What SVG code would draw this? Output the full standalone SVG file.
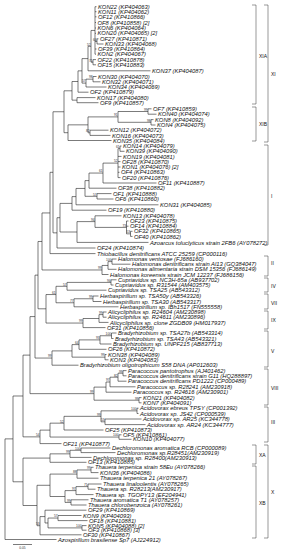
<svg xmlns="http://www.w3.org/2000/svg" width="283" height="550" viewBox="0 0 283 550">
<style>
.lf{font-family:"Liberation Sans",Arial,sans-serif;font-style:italic;font-size:5.8px;fill:#111}
.cl{font-family:"Liberation Sans",Arial,sans-serif;font-size:5px;fill:#111}
.bs{font-family:"Liberation Sans",Arial,sans-serif;font-size:3.3px;fill:#333;text-anchor:end}
.br{fill:none;stroke:#222;stroke-width:0.6}
.bk{fill:none;stroke:#333;stroke-width:0.5}
</style>
<rect width="283" height="550" fill="#fff"/>
<g id="connectors">
<path class="br" d="M97 38.8V44M97 38.8H98.5M97 44H103.5
M95 6.7V54.2M95 6.7H96.5M95 11.7H96.5M95 16.8H96.5M95 22.5H96M95 28H96M95 33.3H96M95 41.4H97M95 49H96.5M95 54.2H96
M93 59.6V64.8M93 59.6H96M93 64.8H96
M91 30.45V62.2M91 30.45H95M91 62.2H93
M88 46.3V70.8M88 46.3H91M88 70.8H150.5
M93 76.5V81.8M93 76.5H96.5M93 81.8H100.5
M86 79.15V87M86 79.15H93M86 87H106.5
M82 58.6V83.1M82 58.6H88M82 83.1H86
M78 70.85V92.2M78 70.85H82M78 92.2H88.5
M77 97.6V102.7M77 97.6H95.5M77 102.7H98.5
M72 81.5V100.15M72 81.5H78M72 100.15H77
M148 108.8V114.2M148 108.8H151.5M148 114.2H156.5
M151 119.6V125M151 119.6H153.5M151 125H155.5
M118 111.5V122.3M118 111.5H148M118 122.3H151
M90 130.2V135.4M90 130.2H108.5M90 135.4H110.5
M88 116.9V132.8M88 116.9H118M88 132.8H90
M68 124.85V140.5M68 124.85H88M68 140.5H111.5
M64 90.8V132.7M64 90.8H72M64 132.7H68
M120 146V151.3M120 146H121.5M120 151.3H124.5
M118 148.65V177.6M118 148.65H120M118 156.4H121.5M118 161.6H120.5M118 167H120.5M118 172.3H119.5M118 177.6H120.5
M103 163.1V183M103 163.1H118M103 183H156.5
M89 173.05V188.2M89 173.05H103M89 188.2H116.5
M97 193.6V199M97 193.6H111.5M97 199H113.5
M85 180.6V196.3M85 180.6H89M85 196.3H97
M76 188.45V204.8M76 188.45H85M76 204.8H158.5
M72 196.6V210.2M72 196.6H76M72 210.2H106.5
M130.5 231.3V236.4M130.5 231.3H132.5M130.5 236.4H132.5
M126.5 221V233.85M126.5 221H128.5M126.5 226.2H128.5M126.5 233.85H130.5
M95 215.8V227.4M95 215.8H121.5M95 227.4H126.5
M77 221.6V242.4M77 221.6H95M77 242.4H148.5
M60 203.4V232M60 203.4H72M60 232H77
M57 217.7V248M57 217.7H60M57 248H95.5
M53 111.75V232.85M53 111.75H64M53 232.85H57
M50 172.3V253.6M50 172.3H53M50 253.6H95.5
M112 259V264.2M112 259H116.5M112 264.2H130.5
M108 261.6V269.3M108 261.6H112M108 269.3H116.5
M102 265.45V274.5M102 265.45H108M102 274.5H108.5
M111 279.8V285M111 279.8H116.5M111 285H113.5
M67 282.4V290.2M67 282.4H111M67 290.2H106.5
M93 296V301.5M93 296H98.5M93 301.5H101.5
M74 298.75V306.8M74 298.75H93M74 306.8H118.5
M56 286.3V302.78M56 286.3H67M56 302.78H74
M103 312V317.2M103 312H106.5M103 317.2H106.5
M99 314.6V322.4M99 314.6H103M99 322.4H108.5
M83 318.5V327.6M83 318.5H99M83 327.6H105.5
M111.5 333V338.5M111.5 333H116.5M111.5 338.5H113.5
M100 335.75V344M100 335.75H111.5M100 344H111.5
M79 339.9V349.3M79 339.9H100M79 349.3H106.5
M105 354.5V359.8M105 354.5H106.5M105 359.8H108.5
M72 344.6V357.15M72 344.6H79M72 357.15H105
M52 350.9V365.2M52 350.9H72M52 365.2H78.5
M123 370.6V375.8M123 370.6H126.5M123 375.8H126.5
M118 373.2V381.2M118 373.2H123M118 381.2H126.5
M110 377.2V386.8M110 377.2H118M110 386.8H135.5
M106 382V392.2M106 382H110M106 392.2H131.5
M139 397.6V402.8M139 397.6H141.5M139 402.8H141.5
M94 387.1V400.2M94 387.1H106M94 400.2H139
M137 408.2V413.5M137 408.2H138.5M137 413.5H138.5
M105 419V424.6M105 419H141.5M105 424.6H145.5
M101 410.85V421.8M101 410.85H137M101 421.8H105
M64 416.33V430M64 416.33H101M64 430H103.5
M119 434.8V439.3M119 434.8H121.5M119 439.3H131.5
M50 423.17V437.05M50 423.17H64M50 437.05H119
M40 430.11V443.6M40 430.11H50M40 443.6H61.5
M81 448V452.6M81 448H110.5M81 452.6H115.5
M70 450.3V457.4M70 450.3H81M70 457.4H91.5
M50 453.85V462.3M50 453.85H70M50 462.3H86.5
M91 467.3V472.6M91 467.3H93.5M91 472.6H98.5
M77 469.95V478.2M77 469.95H91M77 478.2H98.5
M88 484V489.2M88 484H101.5M88 489.2H95.5
M76 486.6V494.6M76 486.6H88M76 494.6H93.5
M71 499.8V505M71 499.8H88.5M71 505H86.5
M65 490.6V502.4M65 490.6H76M65 502.4H71
M50 474.08V496.5M50 474.08H77M50 496.5H65
M58 515.5V520.6M58 515.5H81.5M58 520.6H87.5
M82 525.6V530.2M82 525.6H86.5M82 530.2H86.5
M48 518.05V527.9M48 518.05H58M48 527.9H82
M45 510.2V522.98M45 510.2H86.5M45 522.98H48
M40 516.59V534.8M40 516.59H45M40 534.8H81.5
M37 485.29V525.7M37 485.29H50M37 525.7H40
M23 458.08V505.5M23 458.08H50M23 505.5H37
M42 212.95V269.98M42 212.95H50M42 269.98H102
M46 294.54V323.05M46 294.54H56M46 323.05H83
M38 241.47V308.8M38 241.47H42M38 308.8H46
M35 275.13V358.05M35 275.13H38M35 358.05H52
M30 316.59V393.65M30 316.59H35M30 393.65H94
M23 355.12V436.86M23 355.12H30M23 436.86H40
M13 395.99V481.79M13 395.99H23M13 481.79H23
M5 438.89V539.5M5 438.89H13M5 539.5H56.5"/>
</g>
<g id="bootstrap">
<text class="bs" x="96.6" y="40.7">64</text>
<text class="bs" x="92.6" y="61.5">71</text>
<text class="bs" x="90.6" y="45.6">52</text>
<text class="bs" x="92.6" y="78.4">98</text>
<text class="bs" x="85.6" y="82.4">57</text>
<text class="bs" x="147.6" y="110.8">99</text>
<text class="bs" x="150.6" y="121.6">98</text>
<text class="bs" x="117.6" y="116.2">91</text>
<text class="bs" x="89.6" y="132.1">82</text>
<text class="bs" x="119.6" y="147.9">61</text>
<text class="bs" x="117.6" y="162.4">52</text>
<text class="bs" x="102.6" y="172.3">61</text>
<text class="bs" x="96.6" y="195.6">57</text>
<text class="bs" x="130.1" y="233.1">53</text>
<text class="bs" x="126.1" y="226.7">73</text>
<text class="bs" x="94.6" y="220.9">94</text>
<text class="bs" x="111.6" y="260.9">100</text>
<text class="bs" x="101.6" y="269.3">99</text>
<text class="bs" x="110.6" y="281.7">94</text>
<text class="bs" x="66.6" y="285.6">57</text>
<text class="bs" x="92.6" y="298">99</text>
<text class="bs" x="73.6" y="302.1">77</text>
<text class="bs" x="55.6" y="293.8">61</text>
<text class="bs" x="102.6" y="313.9">99</text>
<text class="bs" x="82.6" y="322.3">99</text>
<text class="bs" x="111.1" y="335">100</text>
<text class="bs" x="99.6" y="339.2">93</text>
<text class="bs" x="78.6" y="343.9">64</text>
<text class="bs" x="104.6" y="356.4">99</text>
<text class="bs" x="51.6" y="357.3">99</text>
<text class="bs" x="122.6" y="372.5">99</text>
<text class="bs" x="117.6" y="376.5">82</text>
<text class="bs" x="109.6" y="381.3">97</text>
<text class="bs" x="93.6" y="392.9">99</text>
<text class="bs" x="138.6" y="399.5">99</text>
<text class="bs" x="136.6" y="410.1">100</text>
<text class="bs" x="104.6" y="421.1">53</text>
<text class="bs" x="100.6" y="415.6">99</text>
<text class="bs" x="63.6" y="422.5">52</text>
<text class="bs" x="118.6" y="436.3">100</text>
<text class="bs" x="39.6" y="436.2">54</text>
<text class="bs" x="80.6" y="449.6">100</text>
<text class="bs" x="69.6" y="453.1">99</text>
<text class="bs" x="90.6" y="469.2">99</text>
<text class="bs" x="76.6" y="473.4">88</text>
<text class="bs" x="87.6" y="485.9">71</text>
<text class="bs" x="75.6" y="489.9">97</text>
<text class="bs" x="70.6" y="501.7">99</text>
<text class="bs" x="57.6" y="517.3">57</text>
<text class="bs" x="81.6" y="527.2">100</text>
<text class="bs" x="39.6" y="525">53</text>
</g>
<g id="leaves">
<g id="n-KON22"><text class="lf" x="98" y="8.8">KON22 (KP404063)</text></g>
<g id="n-KON11"><text class="lf" x="98" y="13.8">KON11 (KP404062)</text></g>
<g id="n-OF12"><text class="lf" x="98" y="18.9">OF12 (KP410866)</text></g>
<g id="n-OF8"><text class="lf" x="97.5" y="24.6">OF8 (KP410858) [2]</text></g>
<g id="n-KON6"><text class="lf" x="97.5" y="30.1">KON6 (KP404064)</text></g>
<g id="n-KON20"><text class="lf" x="97.5" y="35.4">KON20 (KP404065) [2]</text></g>
<g id="n-OF27"><text class="lf" x="100" y="40.9">OF27 (KP410871)</text></g>
<g id="n-KON33"><text class="lf" x="105" y="46.1">KON33 (KP404068)</text></g>
<g id="n-OF39"><text class="lf" x="98" y="51.1">OF39 (KP410864)</text></g>
<g id="n-KON2"><text class="lf" x="97.5" y="56.3">KON2 (KP404067)</text></g>
<g id="n-OF22"><text class="lf" x="97.5" y="61.7">OF22 (KP410878)</text></g>
<g id="n-OF15"><text class="lf" x="97.5" y="66.9">OF15 (KP410883)</text></g>
<g id="n-KON37"><text class="lf" x="152" y="72.9">KON37 (KP404087)</text></g>
<g id="n-KON30"><text class="lf" x="98" y="78.6">KON30 (KP404070)</text></g>
<g id="n-KON32"><text class="lf" x="102" y="83.9">KON32 (KP404071)</text></g>
<g id="n-KON34"><text class="lf" x="108" y="89.1">KON34 (KP404069)</text></g>
<g id="n-OF2"><text class="lf" x="90" y="94.3">OF2 (KP410879)</text></g>
<g id="n-KON17"><text class="lf" x="97" y="99.7">KON17 (KP404080)</text></g>
<g id="n-OF9"><text class="lf" x="100" y="104.8">OF9 (KP410857)</text></g>
<g id="n-OF7"><text class="lf" x="153" y="110.9">OF7 (KP410859)</text></g>
<g id="n-KON40"><text class="lf" x="158" y="116.3">KON40 (KP404074)</text></g>
<g id="n-KON8"><text class="lf" x="155" y="121.7">KON8 (KP404092)</text></g>
<g id="n-KON4"><text class="lf" x="157" y="127.1">KON4 (KP404075)</text></g>
<g id="n-KON12"><text class="lf" x="110" y="132.3">KON12 (KP404072)</text></g>
<g id="n-KON16"><text class="lf" x="112" y="137.5">KON16 (KP404073)</text></g>
<g id="n-KON35"><text class="lf" x="113" y="142.6">KON35 (KP404084)</text></g>
<g id="n-KON14"><text class="lf" x="123" y="148.1">KON14 (KP404079)</text></g>
<g id="n-KON39"><text class="lf" x="126" y="153.4">KON39 (KP404090)</text></g>
<g id="n-KON19"><text class="lf" x="123" y="158.5">KON19 (KP404081)</text></g>
<g id="n-OF28"><text class="lf" x="122" y="163.7">OF28 (KP410870)</text></g>
<g id="n-KON1"><text class="lf" x="122" y="169.1">KON1 (KP404076) [2]</text></g>
<g id="n-OF4"><text class="lf" x="121" y="174.4">OF4 (KP410863)</text></g>
<g id="n-OF20"><text class="lf" x="122" y="179.7">OF20 (KP410876)</text></g>
<g id="n-OF11"><text class="lf" x="158" y="185.1">OF11 (KP410887)</text></g>
<g id="n-OF38"><text class="lf" x="118" y="190.3">OF38 (KP410882)</text></g>
<g id="n-OF1"><text class="lf" x="113" y="195.7">OF1 (KP410888)</text></g>
<g id="n-OF6"><text class="lf" x="115" y="201.1">OF6 (KP410860)</text></g>
<g id="n-KON31"><text class="lf" x="160" y="206.9">KON31 (KP404085)</text></g>
<g id="n-OF19"><text class="lf" x="108" y="212.3">OF19 (KP410880)</text></g>
<g id="n-KON13"><text class="lf" x="123" y="217.9">KON13 (KP404078)</text></g>
<g id="n-OF23"><text class="lf" x="130" y="223.1">OF23 (KP410875)</text></g>
<g id="n-OF14"><text class="lf" x="130" y="228.3">OF14 (KP410884)</text></g>
<g id="n-OF32"><text class="lf" x="134" y="233.4">OF32 (KP410865)</text></g>
<g id="n-OF40"><text class="lf" x="134" y="238.5">OF40 (KP410862)</text></g>
<g id="n-Azoarcus"><text class="lf" x="150" y="244.5">Azoarcus toluclyticus strain 2FB6 (AY078272)</text></g>
<g id="n-OF24"><text class="lf" x="97" y="250.1">OF24 (KP410874)</text></g>
<g id="n-Thiobacillus"><text class="lf" x="97" y="255.7">Thiobacillus denitrificans ATCC 25259 (CP000116)</text></g>
<g id="n-Hventosae"><text class="lf" x="118" y="261.1">Halomonas ventosae (FJ686160)</text></g>
<g id="n-Hdenitrificans"><text class="lf" x="132" y="266.3">Halomonas denitrificans strain Al13 (GQ384047)</text></g>
<g id="n-Halimentaria"><text class="lf" x="118" y="271.4">Halomonas alimentaria strain DSM 15356 (FJ686149)</text></g>
<g id="n-Hkoreensis"><text class="lf" x="110" y="276.6">Halomonas koreensis strain JCM 12237 (FJ686156)</text></g>
<g id="n-CupNC3H"><text class="lf" x="118" y="281.9">Cupriavidus sp. NC3H-65a (AB937702)</text></g>
<g id="n-CupR31544"><text class="lf" x="115" y="287.1">Cupriavidus sp. R31544 (AM403575)</text></g>
<g id="n-CupTSA25"><text class="lf" x="108" y="292.3">Cupriavidus sp. TSA25 (AB543312)</text></g>
<g id="n-HerbTSA50y"><text class="lf" x="100" y="298.1">Herbaspirillum sp. TSA50y (AB543326)</text></g>
<g id="n-HerbTSA30"><text class="lf" x="103" y="303.6">Herbaspirillum sp. TSA30 (AB543317)</text></g>
<g id="n-HerbIBh"><text class="lf" x="120" y="308.9">Herbaspirillum sp. IBh1517 (FN555558)</text></g>
<g id="n-AlicR24604"><text class="lf" x="108" y="314.1">Alicycliphilus sp. R24604 (AM230898)</text></g>
<g id="n-AlicR24611"><text class="lf" x="108" y="319.3">Alicycliphilus sp. R24611 (AM230896)</text></g>
<g id="n-AlicClone"><text class="lf" x="110" y="324.5">Alicycliphilus sp. clone ZGDB09 (HM017937)</text></g>
<g id="n-OF31"><text class="lf" x="107" y="329.7">OF31 (KP410856)</text></g>
<g id="n-BradyTSA27b"><text class="lf" x="118" y="335.1">Bradyrhizobium sp. TSA27b (AB543314)</text></g>
<g id="n-BradyTSA43"><text class="lf" x="115" y="340.6">Bradyrhizobium sp. TSA43 (AB543321)</text></g>
<g id="n-BradyUNPF215"><text class="lf" x="113" y="346.1">Bradyrhizobium sp. UNPF215 (AB837713)</text></g>
<g id="n-OF26"><text class="lf" x="108" y="351.4">OF26 (KP410872)</text></g>
<g id="n-KON38"><text class="lf" x="108" y="356.6">KON38 (KP404089)</text></g>
<g id="n-KON3"><text class="lf" x="110" y="361.9">KON3 (KP404083)</text></g>
<g id="n-BradyOligo"><text class="lf" x="80" y="367.3">Bradyrhizobium oligotrophicum S58 DNA (AP012603)</text></g>
<g id="n-ParaPant"><text class="lf" x="128" y="372.7">Paracoccus pantotrophus (AJ401462)</text></g>
<g id="n-ParaG11"><text class="lf" x="128" y="377.9">Paracoccus denitrificans strain G11 (HQ288897)</text></g>
<g id="n-ParaPD1222"><text class="lf" x="128" y="383.3">Paracoccus denitrificans PD1222 (CP000489)</text></g>
<g id="n-ParaR28241"><text class="lf" x="137" y="388.9">Paracoccus sp. R28241 (AM230918)</text></g>
<g id="n-ParaR24616"><text class="lf" x="133" y="394.3">Paracoccus sp. R24616 (AM230901)</text></g>
<g id="n-KON21"><text class="lf" x="143" y="399.7">KON21 (KP404082)</text></g>
<g id="n-KON7"><text class="lf" x="143" y="404.9">KON7 (KP404091)</text></g>
<g id="n-AcidEbreus"><text class="lf" x="140" y="410.3">Acidovorax ebreus TPSY (CP001392)</text></g>
<g id="n-AcidJS42"><text class="lf" x="140" y="415.6">Acidovorax sp. JS42 (CP000539)</text></g>
<g id="n-AcidAR25"><text class="lf" x="143" y="421.1">Acidovorax sp. AR25 (KC344778)</text></g>
<g id="n-AcidAR24"><text class="lf" x="147" y="426.7">Acidovorax sp. AR24 (KC344777)</text></g>
<g id="n-OF25"><text class="lf" x="105" y="432.1">OF25 (KP410873)</text></g>
<g id="n-OF5"><text class="lf" x="123" y="436.9">OF5 (KP410861)</text></g>
<g id="n-KON10"><text class="lf" x="133" y="441.4">KON10 (KP404077)</text></g>
<g id="n-OF21"><text class="lf" x="63" y="445.7">OF21 (KP410877)</text></g>
<g id="n-DechlArom"><text class="lf" x="112" y="450.1">Dechloromonas aromatica RCB (CP000089)</text></g>
<g id="n-DechlR28451"><text class="lf" x="117" y="454.7">Dechloromonas sp.R28451(AM230919)</text></g>
<g id="n-DechlR28400"><text class="lf" x="93" y="459.5">Dechloromonas sp. R28400(AM230913)</text></g>
<g id="n-OF13"><text class="lf" x="88" y="464.4">OF13 (KP410885)</text></g>
<g id="n-Thau58Eu"><text class="lf" x="95" y="469.4">Thauera terpenica strain 58Eu (AY078266)</text></g>
<g id="n-KON36"><text class="lf" x="100" y="474.7">KON36 (KP404086)</text></g>
<g id="n-Thau21"><text class="lf" x="100" y="480.3">Thauera terpenica 21 (AY078267)</text></g>
<g id="n-ThauLina"><text class="lf" x="103" y="486.1">Thauera linaloolentis (AY078265)</text></g>
<g id="n-ThauR28213"><text class="lf" x="97" y="491.3">Thauera sp. R28213(AM230917)</text></g>
<g id="n-ThauTGOPY13"><text class="lf" x="95" y="496.7">Thauera sp. TGOPY13 (EF204941)</text></g>
<g id="n-ThauArom"><text class="lf" x="90" y="501.9">Thauera aromatica T1 (AY078257)</text></g>
<g id="n-ThauChloro"><text class="lf" x="88" y="507.1">Thauera chlorobenzoica (AY078261)</text></g>
<g id="n-OF29"><text class="lf" x="88" y="512.3">OF29 (KP410869)</text></g>
<g id="n-KON9"><text class="lf" x="83" y="517.6">KON9 (KP404093)</text></g>
<g id="n-OF18"><text class="lf" x="89" y="522.7">OF18 (KP410881)</text></g>
<g id="n-KON5"><text class="lf" x="88" y="527.7">KON5 (KP404088) [2]</text></g>
<g id="n-OF3"><text class="lf" x="88" y="532.3">OF3 (KP410868) [3]</text></g>
<g id="n-OF30"><text class="lf" x="83" y="536.9">OF30 (KP410867)</text></g>
<g id="n-Azospirillum"><text class="lf" x="58" y="541.6">Azospirillum brasilense Sp7 (AJ224912)</text></g>
</g>
<g id="clades">
<path class="bk" d="M252 5H256V104H252M252 107H256V141H252M252 445H256V464H252M252 466H256V538H252
M264 5H268V142H264M264 145H268V245H264M264 256H268V276H264M264 278H268V292H264M264 294H268V309H264M264 311H268V329H264M264 331H268V367H264M264 369H268V405H264M264 407H268V442H264M264 445H268V538H264"/>
<text class="cl" x="259" y="57.5">XIA</text>
<text class="cl" x="259" y="125.5">XIB</text>
<text class="cl" x="259" y="456.5">XA</text>
<text class="cl" x="259" y="504.5">XB</text>
<text class="cl" x="271" y="75.5">XI</text>
<text class="cl" x="271" y="197.5">I</text>
<text class="cl" x="271" y="264.5">II</text>
<text class="cl" x="271" y="287.5">IV</text>
<text class="cl" x="271" y="304.5">VII</text>
<text class="cl" x="271" y="321.5">IX</text>
<text class="cl" x="271" y="352.5">V</text>
<text class="cl" x="271" y="389.5">VIII</text>
<text class="cl" x="271" y="423.5">III</text>
<text class="cl" x="271" y="493.5">X</text>
</g>
<g id="scale">
<path class="br" d="M13 544.5H32"/>
<text class="bs" style="text-anchor:middle" x="22.5" y="549">0.05</text>
</g>
</svg>
